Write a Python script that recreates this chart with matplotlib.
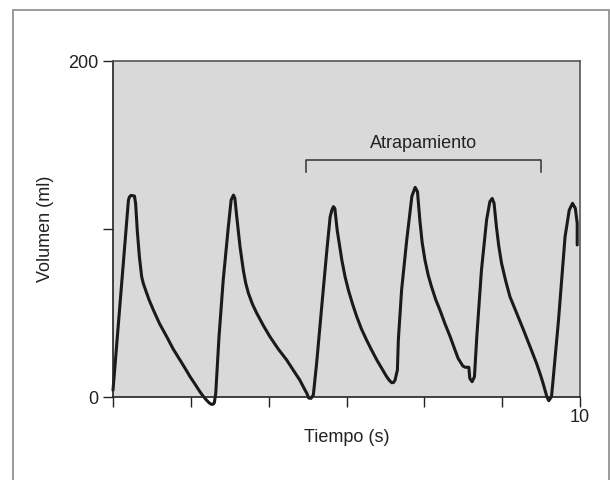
import numpy as np
import matplotlib
matplotlib.use("Agg")
from matplotlib import pyplot as plt

# volumen vs tiempo, curva leida punto a punto
tiempo = [0.0, 0.33, 0.35, 0.385, 0.46, 0.485, 0.52, 0.565, 0.614, 0.65, 0.685, 0.77, 0.864,
          1.0, 1.15, 1.29, 1.435, 1.55, 1.65, 1.76, 1.86, 1.93, 2.0, 2.06, 2.11, 2.15, 2.17,
          2.2, 2.27, 2.36, 2.47, 2.53, 2.58, 2.61, 2.65, 2.72, 2.79, 2.84, 2.9, 2.99, 3.08,
          3.22, 3.36, 3.54, 3.72, 3.86, 4.0, 4.08, 4.15, 4.19, 4.24, 4.29, 4.36, 4.47, 4.58,
          4.65, 4.69, 4.72, 4.75, 4.8, 4.9, 4.97, 5.04, 5.13, 5.22, 5.32, 5.43, 5.54, 5.65,
          5.76, 5.86, 5.92, 5.97, 6.01, 6.04, 6.09, 6.11, 6.18, 6.29, 6.4, 6.47, 6.52, 6.57,
          6.62, 6.68, 6.75, 6.82, 6.91, 7.0, 7.11, 7.22, 7.31, 7.39, 7.49, 7.54, 7.62, 7.64,
          7.69, 7.74, 7.79, 7.89, 8.0, 8.07, 8.12, 8.16, 8.21, 8.26, 8.32, 8.41, 8.5, 8.65,
          8.79, 8.93, 9.07, 9.15, 9.21, 9.29, 9.33, 9.39, 9.43, 9.54, 9.68, 9.77, 9.84, 9.9,
          9.94, 9.94]
volumen = [4, 117, 119, 120, 119.6, 115, 99, 83.5, 71.6, 67.5, 64.7, 58, 51.8,
           43.5, 35.9, 28.5, 22, 16.8, 12.1, 7.5, 3.2, 0.5, -1.8, -3.5, -4.4, -4.2, -3.4,
           2.2, 35.9, 69.6, 101.4, 117.3, 120.2, 118.2, 107.3, 89.5, 75.6, 68, 61.7, 55, 49.8,
           42.5, 35.9, 28.5, 22, 16, 10.1, 5.8, 2.2, -0.6, -0.8, 1.2, 20, 54, 87.5,
           107.3, 111.5, 113.3, 112.3, 99.4, 81.5, 71.5, 63.7, 55.3, 47.8, 40.5, 33.9, 27.8, 22,
           16.8, 12.1, 9.8, 8.5, 8.7, 10.1, 16.1, 33.9, 63.7, 93.5, 119.5, 124.8, 122.2, 105.4,
           92, 81.5, 72.5, 65.7, 58, 51.8, 43.5, 35.9, 29, 23, 18.5, 17.7, 17.7, 11.1,
           9.1, 12.1, 35.9, 75.6, 105.4, 116.3, 118.2, 115.3, 101.4, 90, 79.6, 69, 59.7, 49.5,
           39.9, 30, 20, 13.5, 8.1, 0.2, -2.2, 0.2, 12.1, 45.8, 95.4, 111.3, 115.3, 112.3,
           103.4, 90.5]

x_ticks = np.linspace(0, 10, 7)
x_labels = ["", "", "", "", "", "", "10"]
y_ticks = [0, 100, 200]
y_labels = ["0", "", "200"]

bracket_x = [4.13, 9.17]
bracket_y = 141
bracket_drop = 7
bracket_text = "Atrapamiento"

plt.rcParams['font.family'] = ['Liberation Sans', 'DejaVu Sans']

fig = plt.figure(figsize=(6.1, 4.8), dpi=100)

# marco gris alrededor de la figura
border = plt.Rectangle((13 / 610, -0.1), (609 - 13) / 610, 1.1 - 10 / 480,
                       transform=fig.transFigure, fill=False, edgecolor='#8a8a8a', lw=1.2)
fig.patches.append(border)

ax = fig.add_axes([113 / 610, 83 / 480, (580 - 113) / 610, (397 - 61) / 480])
ax.set_facecolor('#d9d9d9')
ax.plot(tiempo, volumen, color='#1a1a1a', lw=2.2, solid_joinstyle='round',
        solid_capstyle='round', clip_on=False)

# corchete de atrapamiento
ax.plot([bracket_x[0], bracket_x[0], bracket_x[1], bracket_x[1]],
        [bracket_y - bracket_drop, bracket_y, bracket_y, bracket_y - bracket_drop],
        color='#333333', lw=1.1)
ax.text(sum(bracket_x) / 2, bracket_y + 5, bracket_text, ha='center', va='bottom',
        fontsize=13, color='#222222')

ax.set_xlim(0, 10)
ax.set_ylim(0, 200)
ax.set_xticks(x_ticks)
ax.set_xticklabels(x_labels)
ax.set_yticks(y_ticks)
ax.set_yticklabels(y_labels)
ax.tick_params(direction='out', length=7, width=1, labelsize=13, colors='#222222')
ax.tick_params(axis='x', pad=2)

for s in ['left', 'bottom']:
    ax.spines[s].set_color('#222222')
    ax.spines[s].set_linewidth(1.2)
for s in ['top', 'right']:
    ax.spines[s].set_color('#555555')
    ax.spines[s].set_linewidth(1.2)

ax.set_xlabel("Tiempo (s)", fontsize=13, color='#222222', labelpad=2)
ax.set_ylabel("Volumen (ml)", fontsize=13, color='#222222', labelpad=10)

fig.savefig("out.png", dpi=100)
